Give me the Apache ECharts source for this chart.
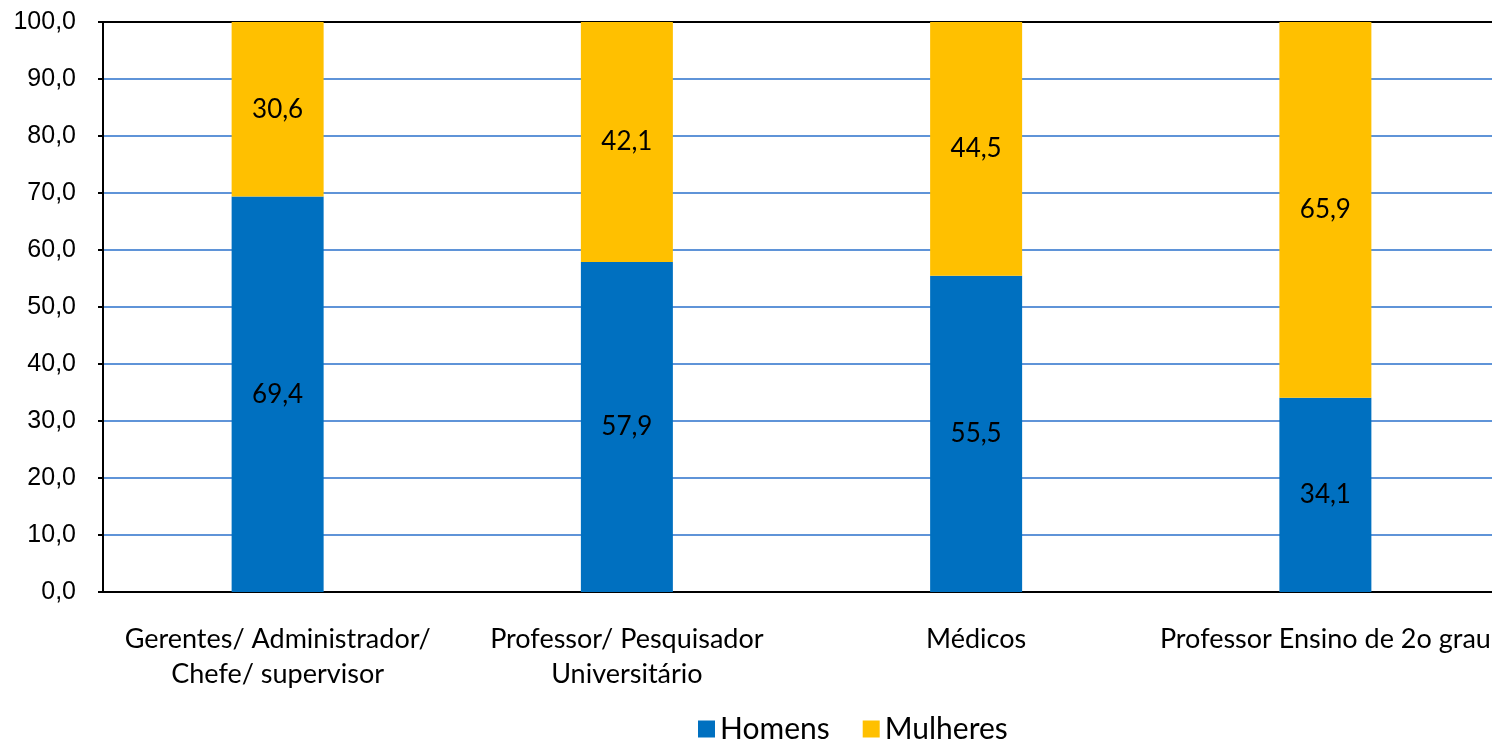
<!DOCTYPE html>
<html>
<head>
<meta charset="utf-8">
<script src="https://cdn.jsdelivr.net/npm/echarts@6/dist/echarts.min.js"></script>
<style>
  html, body { margin: 0; padding: 0; background: #fff; }
  #chart { width: 1492px; height: 740px; }
</style>
</head>
<body>
<div id="chart"></div>
<script>
// Occupation categories (x axis)
const categories = [
  'Gerentes/ Administrador/\nChefe/ supervisor',
  'Professor/ Pesquisador\nUniversitário',
  'Médicos',
  'Professor Ensino de 2o grau'
];
// Share by sex, percent
const homens = [69.4, 57.9, 55.5, 34.1];
const mulheres = [30.6, 42.1, 44.5, 65.9];
const seriesNames = ['Homens', 'Mulheres'];

const fmt = v => v.toFixed(1).replace('.', ',');
const labelFont = 'Lato, "Open Sans", sans-serif';

const chart = echarts.init(document.getElementById('chart'));
chart.setOption({
  animation: false,
  backgroundColor: '#fff',
  grid: { left: 103, top: 22, width: 1397, height: 570, outerBoundsMode: 'none', containLabel: false },
  legend: {
    left: 693, top: 709,
    itemWidth: 17, itemHeight: 17, itemGap: 33,
    icon: 'rect',
    textStyle: { fontFamily: labelFont, fontSize: 30, color: '#000' },
    data: seriesNames
  },
  xAxis: [{
    type: 'category',
    data: categories,
    axisLine: { show: true, lineStyle: { color: '#000', width: 2 } },
    axisTick: { show: false },
    axisLabel: {
      interval: 0, color: '#000', fontFamily: labelFont, fontSize: 27,
      lineHeight: 35, margin: 30
    }
  }, {
    type: 'category',
    position: 'top',
    data: categories,
    axisLine: { show: true, onZero: false, lineStyle: { color: '#000', width: 2 } },
    axisTick: { show: false },
    axisLabel: { show: false }
  }],
  yAxis: {
    type: 'value',
    min: 0, max: 100, interval: 10,
    axisLine: { show: true, lineStyle: { color: '#000', width: 2 } },
    axisTick: { show: true, length: 5, lineStyle: { color: '#000', width: 2 } },
    axisLabel: {
      color: '#000', fontFamily: 'Liberation Sans, Arial, sans-serif', fontSize: 25,
      margin: 27, formatter: v => fmt(v)
    },
    splitLine: { lineStyle: { color: '#5F94D8', width: 2 } }
  },
  series: [
    {
      name: seriesNames[0], type: 'bar', stack: 'total', data: homens,
      barWidth: 92, itemStyle: { color: '#0070C0' },
      label: { show: true, position: 'inside', color: '#000', fontFamily: labelFont, fontSize: 26, formatter: p => fmt(p.value) }
    },
    {
      name: seriesNames[1], type: 'bar', stack: 'total', data: mulheres,
      barWidth: 92, itemStyle: { color: '#FFC000' },
      label: { show: true, position: 'inside', color: '#000', fontFamily: labelFont, fontSize: 26, formatter: p => fmt(p.value) }
    }
  ]
});
</script>
</body>
</html>
